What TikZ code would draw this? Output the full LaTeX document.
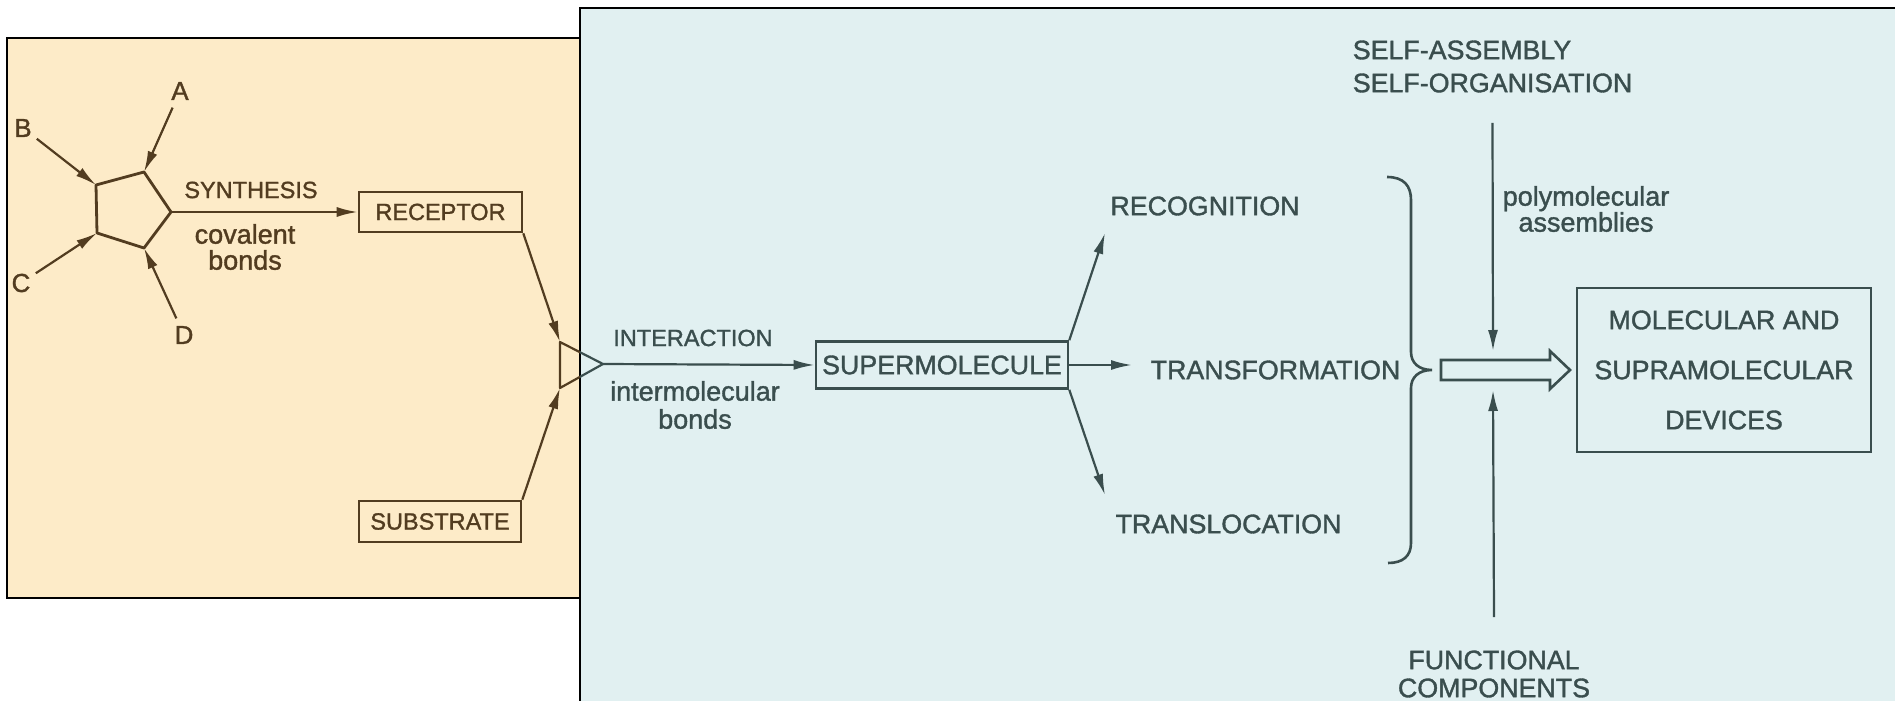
\documentclass[tikz,border=0pt]{standalone}
\usepackage{fontspec}
\setmainfont{Liberation Sans}[FakeBold=1.3]
\usetikzlibrary{arrows.meta}
\definecolor{cream}{RGB}{253,235,200}
\definecolor{paleblue}{RGB}{225,240,241}
\definecolor{inkbrown}{RGB}{82,60,32}
\definecolor{inkslate}{RGB}{58,78,78}
\begin{document}
\begin{tikzpicture}[x=0.5pt,y=-0.5pt,
  >={Latex[length=10.5pt,width=5pt]},
  conn/.style={line width=1.1pt},
  capsS/.style={font=\fontsize{11.75}{14}\selectfont, inner sep=0pt},
  capsL/.style={font=\fontsize{13.4}{16}\selectfont, inner sep=0pt},
  letter/.style={font=\fontsize{13}{15}\selectfont, inner sep=0pt},
  lower/.style={inner sep=0pt, align=center},
  boxnode/.style={draw, line width=1.3pt, inner sep=0pt}]
\useasboundingbox (0,0) rectangle (1895,701);
\clip (0,0) rectangle (1895,701);
% panels
\path[fill=cream, draw=black, line width=0.8pt] (7,38) rectangle (620,598);
\path[fill=paleblue, draw=black, line width=1pt] (580,8) rectangle (1910,720);

% ---------- left panel ----------
\begin{scope}[color=inkbrown]
\coordinate (p1) at (144,172);
\coordinate (p2) at (96,185);
\coordinate (p3) at (97,233);
\coordinate (p4) at (144,248);
\coordinate (p5) at (171,212);
\draw[line width=1.4pt, line join=round] (p1) -- (p2) -- (p3) -- (p4) -- (p5) -- cycle;
\node[letter] (A) at (180,91) {A};
\node[letter] (B) at (23,128) {B};
\node[letter] (C) at (21,283) {C};
\node[letter] (D) at (184,335) {D};
\draw[conn,->,shorten <=4pt] (A) -- (p1);
\draw[conn,->,shorten <=3pt] (B) -- (p2);
\draw[conn,->,shorten <=3pt] (C) -- (p3);
\draw[conn,->,shorten <=4pt] (D) -- (p4);
\node[capsS] (syn) at (251,190) {SYNTHESIS};
\node[lower, font=\fontsize{13.5}{13}\selectfont] (cov) at (245,247) {covalent\\bonds};
\node[boxnode, capsS, minimum width=81.5pt, minimum height=20pt] (rec) at (440.5,212) {RECEPTOR};
\node[boxnode, capsS, minimum width=81pt, minimum height=20.5pt] (sub) at (440,521.5) {SUBSTRATE};
\draw[conn,->] (p5) -- (rec.west);
\coordinate (t1) at (560,342);
\coordinate (t2) at (560,388);
\coordinate (t3) at (603,364);
\draw[conn,->] (rec.south east) -- (t1);
\draw[conn,->] (sub.north east) -- (t2);
\end{scope}
\begin{scope}
\clip (0,0) rectangle (580,701);
\draw[inkbrown, conn, line join=round] (t1) -- (t2) -- (t3) -- cycle;
\end{scope}
\begin{scope}
\clip (580,0) rectangle (1895,701);
\draw[inkslate, conn, line join=round] (t1) -- (t3) -- (t2);
\end{scope}

% ---------- right panel ----------
\begin{scope}[color=inkslate]
\node[capsS] (inter) at (693,338) {INTERACTION};
\node[lower, font=\fontsize{13.5}{14}\selectfont] (imb) at (695,405) {intermolecular\\bonds};
\node[boxnode, capsL, minimum width=126pt, minimum height=23.5pt] (sm) at (942,365) {SUPERMOLECULE};
\draw[conn,->] (t3) -- (sm.west);
\node[capsL] (recog) at (1205,206) {RECOGNITION};
\node[capsL] (transf) at (1275.5,370) {TRANSFORMATION};
\node[capsL] (transl) at (1228.5,524) {TRANSLOCATION};
\coordinate (rcEnd) at (1105,233);
\coordinate (tfEnd) at (1132,365);
\coordinate (tlEnd) at (1105,495);
\draw[conn,->] (sm.north east) -- (rcEnd);
\draw[conn,->] (sm.east) -- (tfEnd);
\draw[conn,->] (sm.south east) -- (tlEnd);
% brace
\draw[line width=1.3pt] (1387,177) .. controls (1404,177) and (1411,186) .. (1411,200)
  -- (1411,352) .. controls (1411,363) and (1419,370) .. (1432,370)
  .. controls (1419,370) and (1411,377) .. (1411,388)
  -- (1411,543) .. controls (1411,556) and (1403,563) .. (1388,563);
% hollow arrow
\draw[line width=1.3pt, line join=miter] (1441,360) -- (1550,360) -- (1550,351) -- (1570,370)
  -- (1550,389) -- (1550,380) -- (1441,380) -- cycle;
\node[boxnode, capsL, minimum width=147pt, minimum height=82pt, align=center,
  font=\fontsize{13.4}{25}\selectfont] (dev) at (1724,370) {MOLECULAR AND\\SUPRAMOLECULAR\\DEVICES};
\node[capsL, align=left, font=\fontsize{13.4}{16.5}\selectfont] (self) at (1492.5,66.5) {SELF-ASSEMBLY\\SELF-ORGANISATION};
\node[lower, font=\fontsize{13.5}{13}\selectfont] (poly) at (1586,209) {polymolecular\\assemblies};
\node[capsL, align=center, font=\fontsize{13.4}{14}\selectfont] (func) at (1494,674) {FUNCTIONAL\\COMPONENTS};
\coordinate (dnEnd) at (1493,351);
\coordinate (upEnd) at (1493,390);
\draw[conn,->] ([yshift=-15pt]self.south) -- (dnEnd);
\draw[conn,->] ([yshift=16.5pt]func.north) -- (upEnd);
\end{scope}
\end{tikzpicture}
\end{document}
